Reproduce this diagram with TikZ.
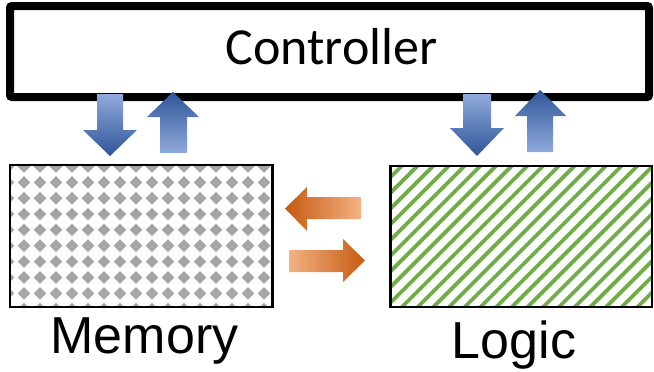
\documentclass[tikz,border=0pt]{standalone}
\usepackage{fontspec}
\setmainfont{Liberation Sans}
\newfontfamily\ctrlfont{Carlito}
\definecolor{bdark}{HTML}{2F5597}
\definecolor{bmid}{HTML}{4472C4}
\definecolor{blight}{HTML}{8FAADC}
\definecolor{odark}{HTML}{C55A11}
\definecolor{omid}{HTML}{ED7D31}
\definecolor{olight}{HTML}{F4B183}
\definecolor{memgray}{HTML}{A5A5A5}
\definecolor{logicgreen}{HTML}{70AD47}
\begin{document}
\begin{tikzpicture}[x=1pt,y=-1pt,
  ctrlbox/.style={draw=black, line width=8pt, rounded corners=2pt, inner sep=0pt, outer sep=0pt, fill=white},
  unitbox/.style={draw=black, line width=2.6pt, inner sep=0pt, outer sep=0pt},
  downblue/.style={top color=blight, middle color=bmid, bottom color=bdark},
  upblue/.style={top color=bdark, middle color=bmid, bottom color=blight},
  leftorange/.style={left color=odark, middle color=omid, right color=olight},
  rightorange/.style={left color=olight, middle color=omid, right color=odark},
  stripe/.style={draw=logicgreen, line width=3.8pt},
  lbl/.style={font=\fontsize{52}{60}\selectfont, anchor=base, inner sep=0pt}
]
\useasboundingbox (0,0) rectangle (654,372);

% Controller
\node[ctrlbox, minimum width=639pt, minimum height=91pt] (ctrl) at (329.5,51.5) {};
\node[font=\ctrlfont\fontsize{52}{60}\selectfont, anchor=base, inner sep=0pt] (ctrltext) at (331.5,64) {Controller};

% Memory box with diamond pattern
\coordinate (memc) at (141.25,236);
\begin{scope}
  \clip (10,165) rectangle (272.5,307);
  \foreach \i in {0,...,17} {
    \foreach \j in {0,...,9} {
      \fill[memgray] ({8+16*\i},{166.5+15.85*\j}) +(-6.3,0) -- +(0,-6.3) -- +(6.3,0) -- +(0,6.3) -- cycle;
    }
  }
\end{scope}
\node[unitbox, minimum width=262.5pt, minimum height=142pt] (mem) at (memc) {};

% Logic box with stripes
\begin{scope}
  \clip (390.5,166) rectangle (652,307);
  \foreach \n in {0,...,27} {
    \pgfmathsetmacro\k{552+\n*15.7}
    \draw[stripe] ({\k-150},150) -- ({\k-320},320);
  }
\end{scope}
\node[unitbox, minimum width=261.5pt, minimum height=141pt] (logic) at (521.25,236.5) {};

% Labels
\node[lbl] (memlbl) at (144.5,353) {Memory};
\node[lbl] (logiclbl) at (514,358) {Logic};

% Blue arrows: memory <-> controller
\shade[downblue] (97,94) -- (123,94) -- (123,130) -- (137,130) -- (110,156) -- (83,130) -- (97,130) -- cycle;
\shade[upblue] (173,92) -- (199,117) -- (187,117) -- (187,153) -- (160,153) -- (160,117) -- (147,117) -- cycle;

% Blue arrows: logic <-> controller
\shade[downblue] (463,94) -- (491,94) -- (491,128) -- (504,128) -- (477,156) -- (450,128) -- (463,128) -- cycle;
\shade[upblue] (540,90) -- (566,116) -- (553,116) -- (553,152) -- (527,152) -- (527,116) -- (515,116) -- cycle;

% Orange arrows between memory and logic
\shade[leftorange] (285,208.5) -- (307,187) -- (307,197) -- (361,197) -- (361,219) -- (307,219) -- (307,231) -- cycle;
\shade[rightorange] (289,250) -- (343,250) -- (343,239) -- (365,260.5) -- (343,282) -- (343,272) -- (289,272) -- cycle;
\end{tikzpicture}
\end{document}
